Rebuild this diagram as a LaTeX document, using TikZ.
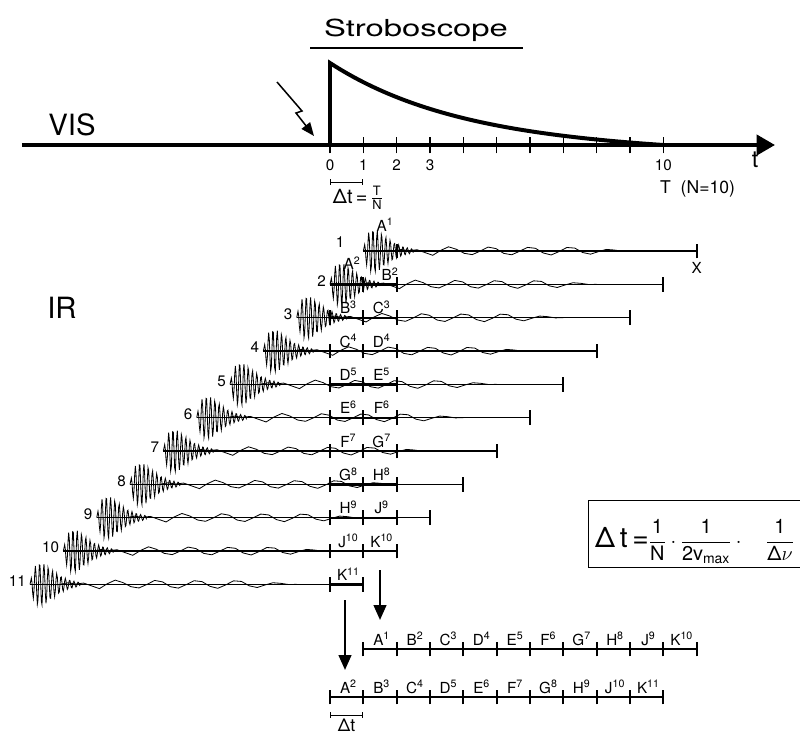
\documentclass[tikz,border=0pt]{standalone}
\usepackage{amsmath}
\usepackage{fontspec}
\setmainfont{TeX Gyre Heros}
\newfontfamily\widefont{TeX Gyre Heros}[FakeStretch=1.4]
\usetikzlibrary{arrows.meta, positioning, calc}

\begin{document}
\begin{tikzpicture}[
    declare function={
      env(\t)=0.65*(\t/0.3)*exp(1-\t/0.3);
      burst(\t)=env(\t)*sin(2800*\t);
      tail(\t)=0.12*sin(300*\t+30)*min(1,(\t-0.9)/1.2)*min(1,(8-\t)/1.5)+0.06*exp(-(\t-0.9)/1.2)*sin(1000*\t);
    },
    visaxis/.style={line width=3.4pt},
    seg/.style={line width=2pt},
    wave/.style={line width=0.7pt},
    baseln/.style={line width=1pt},
    tickmark/.style={line width=1.8pt},
    lbl/.style={font=\fontsize{13}{15}\selectfont, inner sep=0pt},
    bigtxt/.style={font=\fontsize{25}{28}\selectfont, inner sep=0pt},
    darrow/.style={line width=2pt, -{Triangle[length=0.45cm, width=0.38cm]}}
  ]
  \clip (-9.9,-17.67) rectangle (14.1,4.35);

  % stroboscope (VIS)
  \node[font=\widefont\fontsize{20}{24}\selectfont, anchor=base, inner sep=0pt] (strobo) at (2.58,3.24) {Stroboscope};
  \draw[line width=1.2pt] (-0.6,2.91) -- (5.79,2.91);
  \node[bigtxt, anchor=base] (vis) at (-7.74,0.3) {VIS};
  \draw[visaxis, -{Triangle[length=0.55cm, width=0.6cm]}] (-9.24,0) -- (13.35,0);
  \draw[visaxis, line join=miter] (0,0) -- (0,2.46)
    -- plot[domain=0:10, samples=60, smooth] (\x, {2.46*(exp(-\x/3.9)-exp(-10/3.9)*\x/10)});
  \draw[line width=1pt] (0,-0.25) -- (0,0);
  \foreach \i in {1,...,10}
    \draw[line width=1pt] (\i,-0.25) -- (\i,0.25);
  \foreach \i in {0,1,2,3,10}
    \node[lbl, anchor=base] (tl\i) at (\i,-0.75) {\i};
  \node[font=\fontsize{20}{22}\selectfont, anchor=base, inner sep=0pt] (tax) at (12.75,-0.66) {t};
  \draw[line width=1.3pt, -{Triangle[length=0.4cm, width=0.32cm]}]
    (-1.59,1.89) -- (-0.84,1.02) -- (-1.02,0.96) -- (-0.48,0.27);
  \draw[line width=0.8pt, {Bar[width=5pt]}-{Bar[width=5pt]}] (0,-1.11) -- (1,-1.11);
  \node[anchor=base west, inner sep=0pt, font=\fontsize{17}{19}\selectfont] (dtT) at (0.08,-1.74)
    {Δt\,=\,$\frac{\mbox{\fontsize{11}{12}\selectfont T}}{\mbox{\fontsize{11}{12}\selectfont N}}$};
  \node[anchor=base west, inner sep=0pt, font=\fontsize{15}{17}\selectfont] (Tn) at (9.9,-1.44) {T\ \ (N=10)};

  % IR interferograms
  \node[bigtxt, anchor=base] (ir) at (-8.04,-5.19) {IR};
  \foreach \k in {1,...,11} {
    \begin{scope}[shift={(2-\k,-2.18-\k)}]
      \draw[baseln] (0,0) -- (10,0);
      \draw[tickmark] (10,-0.22) -- (10,0.22);
      \draw[wave] plot[domain=0:1.5, samples=76] (\x, {burst(\x)});
      \draw[wave] plot[domain=0.9:8, samples=31] (\x, {tail(\x)});
    \end{scope}
  }
  \node[lbl, anchor=base] (n1) at (0.3,-3.06) {1};
  \foreach \k in {2,...,11}
    \node[lbl, anchor=base east] (n\k) at (1.88-\k,-2.23-\k) {\k};
  \node[lbl, anchor=base] (xend) at (11,-3.84) {X};

  % line 1 and line 2
  \draw[seg] (1,-3.18) -- (2,-3.18);
  \draw[tickmark] (2,-3.4) -- (2,-2.96);
  \node[lbl, anchor=base] (r1) at (1.65,-2.58) {A\textsuperscript{1}};
  \draw[seg] (0,-4.18) -- (2,-4.18);
  \foreach \i in {1,2} \draw[tickmark] (\i,-4.4) -- (\i,-3.96);
  \node[lbl, anchor=base] (l2) at (0.66,-3.73) {A\textsuperscript{2}};
  \node[lbl, anchor=base] (r2) at (1.8,-4.06) {B\textsuperscript{2}};
  % lines 3 to 10
  \foreach \k/\lft/\rgt in {3/B/C,4/C/D,5/D/E,6/E/F,7/F/G,8/G/H,9/H/J,10/J/K} {
    \draw[seg] (0,-2.18-\k) -- (2,-2.18-\k);
    \foreach \i in {0,1,2} \draw[tickmark] (\i,-2.4-\k) -- (\i,-1.96-\k);
    \node[lbl, anchor=base] (l\k) at (0.55,-2.06-\k) {\lft\textsuperscript{\k}};
    \node[lbl, anchor=base] (r\k) at (1.55,-2.06-\k) {\rgt\textsuperscript{\k}};
  }
  % line 11
  \draw[seg] (0,-13.18) -- (1,-13.18);
  \foreach \i in {0,1} \draw[tickmark] (\i,-13.4) -- (\i,-12.96);
  \node[lbl, anchor=base] (l11) at (0.55,-13.06) {K\textsuperscript{11}};

  % formula
  \draw[line width=0.8pt] (7.74,-10.65) rectangle (14.6,-12.66);
  \node[anchor=base west, inner sep=0pt, font=\fontsize{17}{20}\selectfont] (dtform) at (7.95,-12.06)
    {{\fontsize{24}{26}\selectfont Δ\,t\,=}$\dfrac{\mbox{1}}{\mbox{N}}\cdot\dfrac{\mbox{1}}{\mbox{2v\textsubscript{max}}}\cdot\quad\dfrac{\mbox{1}}{\mbox{Δ}\nu}$};

  % resorted sequences
  \coordinate (ar1) at (1.5,-12.75);
  \coordinate (ar1e) at (1.5,-14.25);
  \coordinate (ar2) at (0.45,-13.65);
  \coordinate (ar2e) at (0.45,-15.75);
  \draw[darrow] (ar1) -- (ar1e);
  \draw[darrow] (ar2) -- (ar2e);
  \draw[seg] (1,-15.12) -- (11,-15.12);
  \foreach \i in {1,...,11} \draw[tickmark] (\i,-15.34) -- (\i,-14.9);
  \foreach \l [count=\i] in {A,B,C,D,E,F,G,H,J,K}
    \node[lbl, anchor=base] (u\i) at (\i+0.55,-15.0) {\l\textsuperscript{\i}};
  \draw[seg] (0,-16.56) -- (10,-16.56);
  \foreach \i in {0,...,10} \draw[tickmark] (\i,-16.78) -- (\i,-16.34);
  \foreach \l/\j [count=\i from 0] in {A/2,B/3,C/4,D/5,E/6,F/7,G/8,H/9,J/10,K/11}
    \node[lbl, anchor=base] (w\i) at (\i+0.55,-16.44) {\l\textsuperscript{\j}};
  \draw[line width=0.8pt, {Bar[width=5pt]}-{Bar[width=5pt]}] (0,-17.1) -- (1,-17.1);
  \node[anchor=base, inner sep=0pt, font=\fontsize{15}{17}\selectfont] (dtB) at (0.5,-17.6) {Δt};
\end{tikzpicture}
\end{document}
